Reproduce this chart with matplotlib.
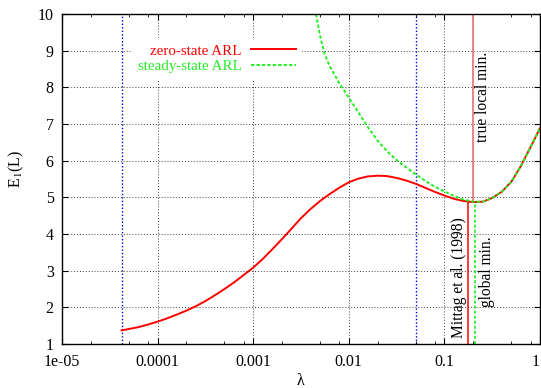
import matplotlib
matplotlib.use("Agg")
import matplotlib.pyplot as plt
from matplotlib.ticker import FixedLocator, FixedFormatter, NullFormatter

# ---------------- data ----------------
# zero-state ARL curve (lambda, E1(L))
zs_lambda = [4.2e-5, 5.01e-5, 6.31e-5, 7.94e-5,
             1.0e-4, 1.26e-4, 1.58e-4, 2.0e-4, 2.51e-4, 3.16e-4, 3.98e-4, 5.01e-4, 6.31e-4, 7.94e-4,
             1.0e-3, 1.26e-3, 1.58e-3, 2.0e-3, 2.51e-3, 3.16e-3, 3.98e-3, 5.01e-3, 6.31e-3, 7.94e-3,
             0.01, 0.0126, 0.0158, 0.020, 0.0251, 0.0316, 0.0398, 0.0501, 0.0631, 0.0794,
             0.1, 0.126, 0.158, 0.20, 0.251, 0.316, 0.398, 0.501, 0.631, 0.794, 1.0]
zs_arl = [1.37, 1.41, 1.46, 1.53,
          1.61, 1.70, 1.80, 1.91, 2.03, 2.17, 2.33, 2.50, 2.68, 2.88,
          3.08, 3.32, 3.58, 3.86, 4.14, 4.43, 4.68, 4.90, 5.09, 5.26,
          5.41, 5.51, 5.57, 5.59, 5.58, 5.53, 5.46, 5.37, 5.26, 5.15,
          5.05, 4.96, 4.90, 4.87, 4.88, 4.98, 5.15, 5.42, 5.85, 6.36, 6.88]

# steady-state ARL curve
ss_lambda = [4.54e-3, 5.01e-3, 5.62e-3, 6.31e-3, 7.94e-3,
             0.01, 0.0126, 0.0158, 0.020, 0.0251, 0.0316, 0.0398, 0.0501, 0.0631, 0.0794,
             0.1, 0.126, 0.158, 0.20, 0.251, 0.316, 0.398, 0.501, 0.631, 0.794, 1.0]
ss_arl = [10.0, 9.40, 8.90, 8.58, 8.12,
          7.72, 7.32, 6.92, 6.55, 6.26, 6.02, 5.82, 5.63, 5.45, 5.29,
          5.16, 5.04, 4.94, 4.88, 4.88, 4.98, 5.15, 5.42, 5.85, 6.36, 6.88]

# reference lambdas
blue_lambdas = [4.2e-5, 0.05]
mittag_lambda = 0.175
local_min_lambda = 0.198
global_min_lambda = 0.208
min_arl = 4.87

xtick_vals = [1e-5, 1e-4, 1e-3, 1e-2, 1e-1, 1]
xtick_labels = ["1e-05", "0.0001", "0.001", "0.01", "0.1", "1"]
ytick_vals = [1, 2, 3, 4, 5, 6, 7, 8, 9, 10]

# ---------------- plot ----------------
plt.rcParams['font.family'] = ['Liberation Serif', 'DejaVu Serif']
plt.rcParams['mathtext.fontset'] = 'stix'

fig = plt.figure(figsize=(5.41, 3.88), dpi=100)
ax = fig.add_axes([0.1146, 0.1134, 0.8834, 0.8505])

ax.set_xscale('log')
ax.set_xlim(1e-5, 1)
ax.set_ylim(1, 10)

grid_kw = dict(color='0.25', linestyle=(0, (1, 2)), lw=0.7, zorder=0)
for xv in xtick_vals[1:-1]:
    ax.axvline(xv, **grid_kw)
for yv in ytick_vals[1:-1]:
    ax.axhline(yv, **grid_kw)

for bl in blue_lambdas:
    ax.axvline(bl, color='#0000cc', linestyle=(0, (1, 1.5)), lw=1.0, zorder=1)

ax.plot([local_min_lambda, local_min_lambda], [min_arl, 10], color='#f07878', lw=1.3, zorder=2)
ax.plot([mittag_lambda, mittag_lambda], [1, min_arl], color='#ff0000', lw=1.1, zorder=2)
ax.plot([global_min_lambda, global_min_lambda], [1, min_arl], color='#33ee33',
        lw=1.3, linestyle=(0, (1.7, 1.1)), zorder=2)

l1, = ax.plot(zs_lambda, zs_arl, color='#ff0000', lw=1.4, zorder=3, label='zero-state ARL')
l2, = ax.plot(ss_lambda, ss_arl, color='#22ee22', lw=1.4, linestyle=(0, (1.7, 1.1)),
              zorder=4, label='steady-state ARL')

ax.text(0.254, 6.5, 'true local min.', rotation=90, ha='center', va='bottom', fontsize=11.2)
ax.text(0.142, 1.16, 'Mittag et al. (1998)', rotation=90, ha='center', va='bottom', fontsize=11.2)
ax.text(0.279, 2.0, 'global min.', rotation=90, ha='center', va='bottom', fontsize=11.2)

leg = ax.legend(handles=[l1, l2], loc='center right', bbox_to_anchor=(0.517, 0.865),
                markerfirst=False, frameon=True, fancybox=False, framealpha=1,
                edgecolor='none', fontsize=10.8, handlelength=3.0, handletextpad=0.6,
                labelspacing=0.12, borderpad=0.4)
for t, c in zip(leg.get_texts(), ['#ff0000', '#22ee22']):
    t.set_color(c)
leg.set_zorder(5)

ax.xaxis.set_major_locator(FixedLocator(xtick_vals))
ax.xaxis.set_major_formatter(FixedFormatter(xtick_labels))
minor = []
for d in xtick_vals[:-1]:
    for m in (2, 5, 8):
        minor.append(d * m)
ax.xaxis.set_minor_locator(FixedLocator(minor))
ax.xaxis.set_minor_formatter(NullFormatter())
ax.set_yticks(ytick_vals)
ax.set_yticklabels([str(v) for v in ytick_vals])

ax.tick_params(which='both', direction='in', top=True, right=True, labelsize=11.5)
ax.tick_params(which='major', length=4, width=0.8)
ax.tick_params(which='minor', length=2, width=0.6)
ax.tick_params(axis='x', pad=7)
ax.tick_params(axis='y', pad=6)
for s in ax.spines.values():
    s.set_linewidth(1.0)
    s.set_zorder(6)

lbls = ax.get_xticklabels()
lbls[-1].set_horizontalalignment('right')
lbls[-1].set_x(1)

ax.set_xlabel('λ', fontsize=11.5, labelpad=2)
ax.set_ylabel('E$_1$(L)', fontsize=11.5)
ax.yaxis.set_label_coords(-0.076, 0.53)

fig.savefig('out.png', dpi=100)
